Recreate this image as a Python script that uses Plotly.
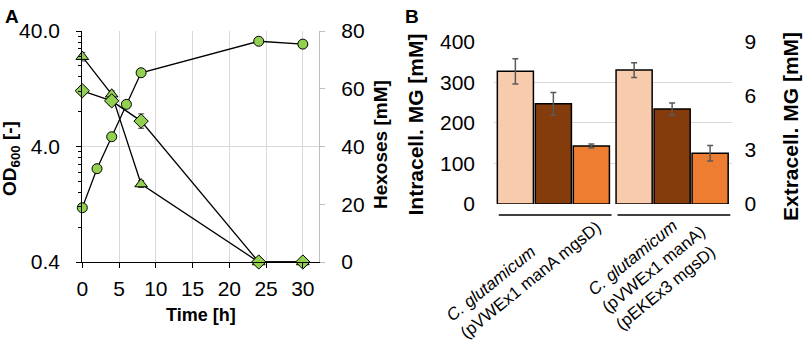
import plotly.graph_objects as go
import math

# ---------------- Panel A data ----------------
time_od = [0, 2, 4, 6, 8, 24, 30]
od600 = [1.18, 2.57, 4.86, 9.27, 17.4, 32.6, 30.8]

time_hex = [0, 4, 8, 24, 30]
hex_triangle = [71.1, 58.1, 27.0, 0, 0]
hex_triangle_err = [1.5, 1.2, 1.2, 0, 0]
hex_diamond = [59.3, 55.8, 48.8, 0, 0]
hex_diamond_err = [1.2, 1.6, 2.5, 0, 0]

od_tickvals = [0.4, 4, 40]
od_ticktext = ["0.4", "4.0", "40.0"]
od_minor = [0.4 * k for k in range(2, 10)] + [4 * k for k in range(2, 10)]

# ---------------- Panel B data ----------------
strains = ["s1", "s2"]
strain_labels = [
    "<i>C. glutamicum</i><br>(pVWEx1 manA mgsD)",
    "<i>C. glutamicum</i><br>(pVWEx1 manA)<br>(pEKEx3 mgsD)",
]
bar1 = [327, 330]
bar1_err = [31, 18]
bar2 = [247, 234]
bar2_err = [28, 15]
bar3 = [143, 125]
bar3_err = [5, 19]

GREEN = "#92D050"
FONT = "Liberation Sans, Arial, sans-serif"
W, H = 803, 340

fig = go.Figure()

# Panel A traces
fig.add_trace(go.Scatter(
    x=time_od, y=od600, mode="lines+markers", xaxis="x", yaxis="y",
    line=dict(color="black", width=1.3),
    marker=dict(symbol="circle", size=10, color=GREEN, line=dict(color="black", width=1)),
    cliponaxis=False, showlegend=False))
fig.add_trace(go.Scatter(
    x=time_hex, y=hex_triangle, mode="lines+markers", xaxis="x", yaxis="y2",
    line=dict(color="black", width=1.3),
    error_y=dict(type="data", array=hex_triangle_err, color="#404040", thickness=1, width=3),
    marker=dict(symbol="triangle-up", size=11, color=GREEN, line=dict(color="black", width=1)),
    cliponaxis=False, showlegend=False))
fig.add_trace(go.Scatter(
    x=time_hex, y=hex_diamond, mode="lines+markers", xaxis="x", yaxis="y2",
    line=dict(color="black", width=1.3),
    error_y=dict(type="data", array=hex_diamond_err, color="#404040", thickness=1, width=3),
    marker=dict(symbol="diamond", size=11, color=GREEN, line=dict(color="black", width=1)),
    cliponaxis=False, showlegend=False))

# Panel B traces
bar_specs = [(bar1, bar1_err, "#F8CBAD"), (bar2, bar2_err, "#843C0C"), (bar3, bar3_err, "#ED7D31")]
for vals, errs, col in bar_specs:
    fig.add_trace(go.Bar(
        x=strains, y=vals, xaxis="x2", yaxis="y3",
        marker=dict(color=col, line=dict(color="black", width=1.5)),
        error_y=dict(type="data", array=errs, color="#595959", thickness=1.5, width=3),
        showlegend=False))
# invisible trace to activate right axis of panel B
fig.add_trace(go.Scatter(x=strains, y=[0, 0], xaxis="x2", yaxis="y4", mode="markers",
                         marker=dict(opacity=0), showlegend=False, hoverinfo="skip"))

tickfont = dict(family=FONT, size=21, color="black")

fig.update_layout(
    width=W, height=H, margin=dict(l=0, r=0, t=0, b=0, autoexpand=False),
    paper_bgcolor="white", plot_bgcolor="white",
    font=dict(family=FONT, color="black"),
    barmode="group", bargap=0.04, bargroupgap=0.05,
    xaxis=dict(domain=[82.3 / W, 319 / W], anchor="y", range=[0, 32.2], automargin=False,
               tickvals=[0, 5, 10, 15, 20, 25, 30], ticks="outside", ticklen=5,
               tickcolor="black", showline=True, linecolor="black", linewidth=1.3,
               showgrid=True, gridcolor="#D9D9D9", gridwidth=1, zeroline=False,
               tickfont=tickfont, ticklabelstandoff=3),
    yaxis=dict(domain=[78 / H, 309 / H], anchor="x", type="log", automargin=False,
               range=[math.log10(0.4), math.log10(40)],
               tickvals=od_tickvals, ticktext=od_ticktext, ticks="outside", ticklen=5,
               tickcolor="black", showline=True, linecolor="black", linewidth=1.3,
               showgrid=True, gridcolor="#D9D9D9", gridwidth=1, zeroline=False,
               minor=dict(tickvals=od_minor, ticks="outside", ticklen=3, tickcolor="black",
                          showgrid=False),
               tickfont=tickfont, ticklabelstandoff=12),
    yaxis2=dict(overlaying="y", side="right", anchor="x", range=[0, 80], automargin=False,
                tickvals=[0, 20, 40, 60, 80], ticks="outside", ticklen=5,
                tickcolor="#BFBFBF", showline=True, linecolor="#BFBFBF", linewidth=1.3,
                showgrid=False, zeroline=False, tickfont=tickfont, ticklabelstandoff=12),
    xaxis2=dict(domain=[494 / W, 731.5 / W], anchor="y3", range=[-0.5, 1.5], automargin=False,
                showticklabels=False, showline=False, showgrid=False, zeroline=False,
                ticks=""),
    yaxis3=dict(domain=[136 / H, 298.3 / H], anchor="x2", range=[0, 400], automargin=False,
                tickvals=[0, 100, 200, 300, 400], showline=False, showgrid=True,
                gridcolor="#D9D9D9", gridwidth=1, zeroline=False, ticks="",
                tickfont=tickfont, ticklabelstandoff=18),
    yaxis4=dict(overlaying="y3", side="right", anchor="x2", range=[0, 9], automargin=False,
                tickvals=[0, 3, 6, 9], showline=False, showgrid=False, zeroline=False,
                ticks="", tickfont=tickfont, ticklabelstandoff=12),
)

# category bracket lines under panel B
for i in range(len(strains)):
    fig.add_shape(type="line", xref="x2", yref="paper",
                  x0=i - 0.46, x1=i + 0.49, y0=(H - 215) / H, y1=(H - 215) / H,
                  line=dict(color="black", width=1.5))

ann = []
# category labels (centre of rotated text block)
shifts = [-30, -19]
centres_y = [271, 269]
for i, lab in enumerate(strain_labels):
    ann.append(dict(x=strains[i], xref="x2", y=(H - centres_y[i]) / H, yref="paper",
                    text=lab, showarrow=False, textangle=-39, xanchor="center",
                    yanchor="middle", align="left", xshift=shifts[i],
                    font=dict(family=FONT, size=17, color="black")))
# axis titles
ann += [
    dict(x=11 / W, y=(H - 159) / H, xref="paper", yref="paper", text="<b>OD<sub>600</sub> [-]</b>",
         textangle=-90, showarrow=False, xanchor="center", yanchor="middle",
         font=dict(family=FONT, size=19)),
    dict(x=380 / W, y=(H - 145) / H, xref="paper", yref="paper", text="<b>Hexoses [mM]</b>",
         textangle=-90, showarrow=False, xanchor="center", yanchor="middle",
         font=dict(family=FONT, size=19)),
    dict(x=200.7 / W, y=(H - 315) / H, xref="paper", yref="paper", text="<b>Time [h]</b>",
         showarrow=False, xanchor="center", yanchor="middle",
         font=dict(family=FONT, size=18)),
    dict(x=415 / W, y=(H - 124.5) / H, xref="paper", yref="paper", text="<b>Intracell. MG [mM]</b>",
         textangle=-90, showarrow=False, xanchor="center", yanchor="middle",
         font=dict(family=FONT, size=21)),
    dict(x=790 / W, y=(H - 127) / H, xref="paper", yref="paper", text="<b>Extracell. MG [mM]</b>",
         textangle=-90, showarrow=False, xanchor="center", yanchor="middle",
         font=dict(family=FONT, size=21)),
    dict(x=3 / W, y=(H - 4) / H, xref="paper", yref="paper", text="<b>A</b>",
         showarrow=False, xanchor="left", yanchor="top", font=dict(family=FONT, size=19)),
    dict(x=403 / W, y=(H - 4) / H, xref="paper", yref="paper", text="<b>B</b>",
         showarrow=False, xanchor="left", yanchor="top", font=dict(family=FONT, size=19)),
]
fig.update_layout(annotations=ann)

fig.write_html("out.html", config={"displayModeBar": False},
               post_script="document.body.style.margin='0';document.body.style.overflow='hidden';")
